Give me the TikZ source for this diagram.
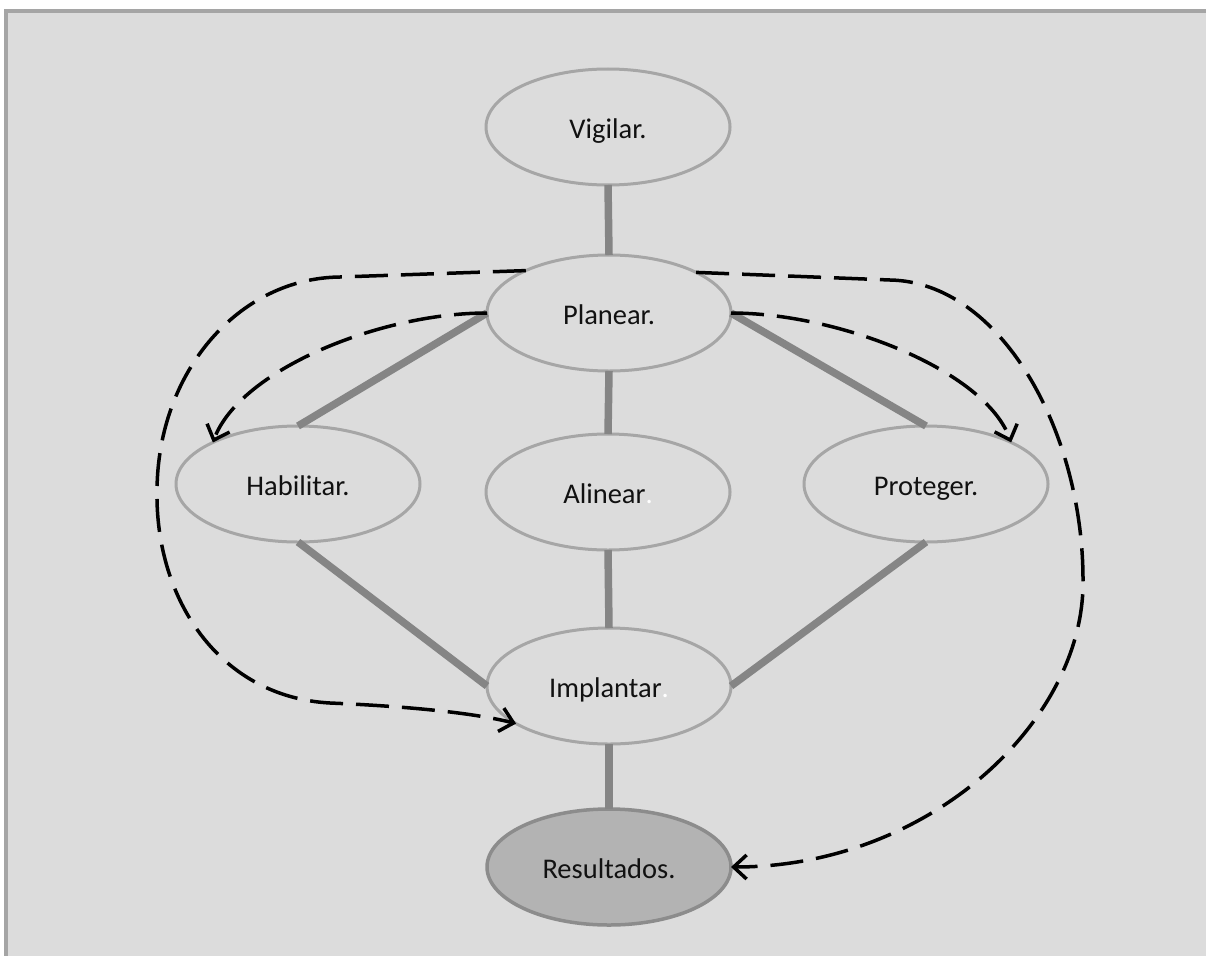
\documentclass[tikz,border=0pt]{standalone}
\usepackage{fontspec}
\setmainfont{Carlito}
\usetikzlibrary{shapes.geometric,arrows.meta}
\definecolor{bgc}{HTML}{DCDCDC}
\definecolor{framec}{HTML}{A5A5A5}
\definecolor{ovalline}{HTML}{A6A6A6}
\definecolor{linkc}{HTML}{858585}
\definecolor{resfill}{HTML}{B3B3B3}
\definecolor{resline}{HTML}{8C8C8C}
\definecolor{txt}{HTML}{111111}
\begin{document}
\begin{tikzpicture}[x=1pt,y=-1pt,
  oval/.style={ellipse, draw=ovalline, fill=bgc, line width=3pt,
    minimum width=244pt, minimum height=116pt, inner sep=0pt, outer sep=0pt,
    text height=26pt, text depth=4pt,
    font=\fontsize{28.5}{33}\selectfont, text=txt},
  resoval/.style={oval, draw=resline, fill=resfill, line width=3.5pt},
  link/.style={draw=linkc, line width=7.5pt},
  flow/.style={draw=black, line width=3.5pt, dash pattern=on 33pt off 13pt,
    -{Straight Barb[length=13pt,width=24pt]}}]
\useasboundingbox (0,0) rectangle (1206,955);
\clip (0,0) rectangle (1206,955);
\fill[white] (0,0) rectangle (1206,955);
\draw[fill=bgc, draw=framec, line width=4pt] (6,11) rectangle (1240,990);

\node[oval] (vig) at (608,127) {Vigilar.};
\node[oval] (pla) at (609,313) {Planear.};
\node[oval] (hab) at (298,484) {Habilitar.};
\node[oval] (ali) at (608,492) {Alinear\textcolor{white}{.}};
\node[oval] (pro) at (926,484) {Proteger.};
\node[oval] (imp) at (609,686) {Implantar\textcolor{white}{.}};
\node[resoval] (res) at (609,867) {Resultados.};

\draw[link] (vig.south) -- (pla.north);
\draw[link] (pla.west) -- (hab.north);
\draw[link] (pla.east) -- (pro.north);
\draw[link] (pla.south) -- (ali.north);
\draw[link] (hab.south) -- (imp.west);
\draw[link] (pro.south) -- (imp.east);
\draw[link] (ali.south) -- (imp.north);
\draw[link] (imp.south) -- (res.north);

\draw[flow] (pla.west) .. controls (380,313) and (240,370) .. (hab.154);
\draw[flow] (pla.east) .. controls (838,313) and (985,370) .. (pro.26);
\draw[flow] (pla.153) -- (340,277) .. controls (240,278) and (158,370) .. (157,490)
  .. controls (155,600) and (220,697) .. (330,703)
  .. controls (400,706) and (470,712) .. (imp.202);
\draw[flow] (pla.25) -- (890,280) .. controls (1000,282) and (1083,430) .. (1083,580)
  .. controls (1085,720) and (930,867) .. (res.east);
\end{tikzpicture}
\end{document}
